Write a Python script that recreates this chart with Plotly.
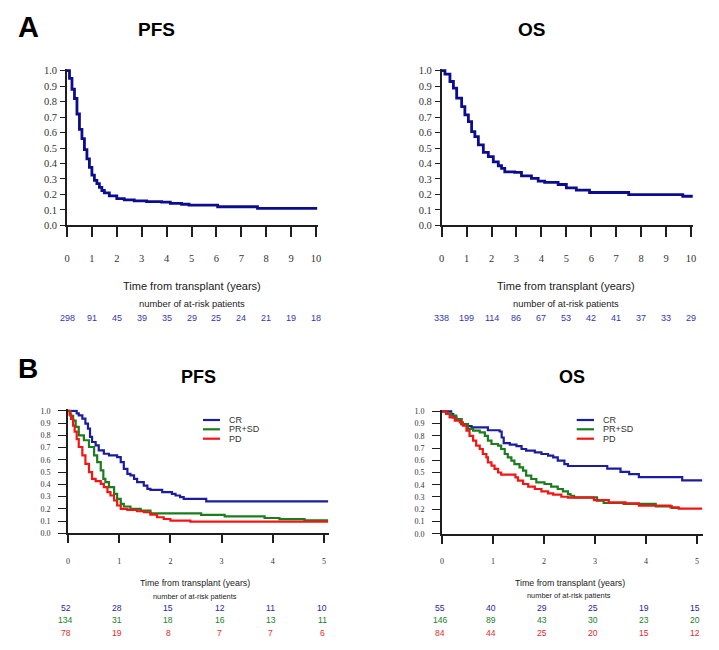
import plotly.graph_objects as go

# the page body adds an 8px margin; the figure is sized to fit inside the window
OFF = 8
W, H = 719 - 2 * OFF, 650 - 2 * OFF

# ---------------- data ----------------
years_a = [0, 1, 2, 3, 4, 5, 6, 7, 8, 9, 10]
years_b = [0, 1, 2, 3, 4, 5]
y_ticks = [0.0, 0.1, 0.2, 0.3, 0.4, 0.5, 0.6, 0.7, 0.8, 0.9, 1.0]

# Panel A - PFS (all patients)
a_pfs_t = [0, 0.1, 0.2, 0.3, 0.4, 0.5, 0.6, 0.7, 0.8, 0.9, 1.0, 1.1, 1.2, 1.3, 1.4, 1.5,
           1.7, 2.0, 2.3, 2.7, 3.2, 3.8, 4.15, 4.6, 4.9, 6.05, 7.65, 10.05]
a_pfs_s = [1.0, 0.95, 0.88, 0.82, 0.72, 0.62, 0.56, 0.49, 0.43, 0.375, 0.325, 0.29, 0.27,
           0.245, 0.225, 0.21, 0.19, 0.173, 0.165, 0.158, 0.153, 0.15, 0.142, 0.136, 0.13,
           0.12, 0.11, 0.11]

# Panel A - OS (all patients)
a_os_t = [0, 0.13, 0.33, 0.47, 0.6, 0.8, 0.93, 1.07, 1.2, 1.33, 1.47, 1.67, 1.87, 2.07,
          2.27, 2.4, 2.53, 2.93, 3.2, 3.6, 3.87, 4.13, 4.67, 5.0, 5.4, 5.93, 7.5, 9.67, 10.07]
a_os_s = [1.0, 0.978, 0.93, 0.887, 0.823, 0.768, 0.714, 0.67, 0.606, 0.574, 0.52, 0.472,
          0.444, 0.41, 0.385, 0.368, 0.346, 0.342, 0.32, 0.303, 0.286, 0.277, 0.264, 0.242,
          0.227, 0.212, 0.199, 0.188, 0.188]

# Panel B - PFS by disease status
b_pfs_cr_t = [0, 0.17, 0.21, 0.28, 0.34, 0.39, 0.43, 0.47, 0.54, 0.6, 0.7, 0.8, 0.96, 1.03,
              1.09, 1.16, 1.22, 1.29, 1.35, 1.48, 1.55, 1.61, 1.84, 2.03, 2.1, 2.19, 2.26,
              2.7, 5.08]
b_pfs_cr_s = [1.0, 0.98, 0.964, 0.937, 0.896, 0.855, 0.787, 0.746, 0.719, 0.678, 0.65,
              0.637, 0.623, 0.582, 0.527, 0.486, 0.473, 0.445, 0.418, 0.39, 0.363, 0.355,
              0.336, 0.322, 0.309, 0.295, 0.281, 0.26, 0.26]
b_pfs_prsd_t = [0, 0.05, 0.1, 0.15, 0.21, 0.31, 0.41, 0.51, 0.57, 0.64, 0.69, 0.73, 0.8,
                0.9, 0.96, 1.03, 1.09, 1.22, 1.42, 1.61, 2.6, 3.06, 3.84, 4.13, 4.62, 5.08]
b_pfs_prsd_s = [1.0, 0.96, 0.92, 0.87, 0.8, 0.76, 0.705, 0.637, 0.582, 0.514, 0.445, 0.418,
                0.377, 0.322, 0.281, 0.24, 0.219, 0.2, 0.186, 0.162, 0.15, 0.138, 0.125,
                0.115, 0.106, 0.106]
b_pfs_pd_t = [0, 0.03, 0.06, 0.1, 0.13, 0.17, 0.21, 0.28, 0.34, 0.41, 0.47, 0.54, 0.64, 0.7,
              0.77, 0.83, 0.9, 0.96, 1.03, 1.16, 1.35, 1.48, 1.61, 1.74, 1.87, 2.0, 2.39, 5.08]
b_pfs_pd_s = [1.0, 0.97, 0.935, 0.88, 0.83, 0.77, 0.705, 0.637, 0.568, 0.5, 0.445, 0.426,
              0.404, 0.377, 0.336, 0.309, 0.268, 0.227, 0.2, 0.191, 0.18, 0.172, 0.153,
              0.131, 0.117, 0.104, 0.095, 0.095]

# Panel B - OS by disease status
b_os_cr_t = [0, 0.18, 0.22, 0.28, 0.38, 0.5, 0.58, 0.9, 1.13, 1.17, 1.21, 1.33, 1.46, 1.56,
             1.65, 1.82, 1.95, 2.08, 2.18, 2.27, 2.4, 2.47, 3.24, 3.5, 3.67, 3.86, 4.71, 5.1]
b_os_cr_s = [1.0, 0.978, 0.95, 0.937, 0.896, 0.88, 0.869, 0.845, 0.835, 0.786, 0.74, 0.728,
             0.715, 0.692, 0.678, 0.665, 0.651, 0.638, 0.624, 0.597, 0.569, 0.553, 0.531,
             0.505, 0.486, 0.463, 0.436, 0.436]
b_os_prsd_t = [0, 0.08, 0.18, 0.28, 0.38, 0.51, 0.61, 0.74, 0.84, 0.9, 0.97, 1.1, 1.16, 1.23,
               1.29, 1.36, 1.42, 1.52, 1.59, 1.65, 1.75, 1.85, 2.01, 2.14, 2.27, 2.37, 2.47,
               2.52, 2.59, 3.04, 3.17, 3.56, 4.19, 4.51, 4.67]
b_os_prsd_s = [1.0, 0.984, 0.965, 0.937, 0.896, 0.856, 0.842, 0.828, 0.8, 0.76, 0.733, 0.72,
               0.692, 0.651, 0.624, 0.597, 0.569, 0.542, 0.515, 0.474, 0.447, 0.42, 0.406,
               0.384, 0.365, 0.346, 0.324, 0.31, 0.297, 0.27, 0.251, 0.243, 0.224, 0.21, 0.21]
b_os_pd_t = [0, 0.08, 0.15, 0.25, 0.35, 0.41, 0.48, 0.54, 0.61, 0.67, 0.74, 0.8, 0.87, 0.9,
             0.97, 1.03, 1.1, 1.16, 1.44, 1.49, 1.59, 1.69, 1.82, 1.95, 2.08, 2.18, 2.34,
             2.47, 2.98, 3.27, 3.6, 3.86, 4.48, 4.64, 5.1]
b_os_pd_s = [1.0, 0.978, 0.95, 0.924, 0.91, 0.883, 0.842, 0.8, 0.76, 0.72, 0.692, 0.651,
             0.624, 0.583, 0.556, 0.529, 0.5, 0.482, 0.46, 0.433, 0.406, 0.384, 0.365, 0.346,
             0.33, 0.319, 0.302, 0.295, 0.275, 0.256, 0.248, 0.229, 0.215, 0.205, 0.205]

groups = ["CR", "PR+SD", "PD"]

# at-risk tables
risk_a_pfs = [298, 91, 45, 39, 35, 29, 25, 24, 21, 19, 18]
risk_a_os = [338, 199, 114, 86, 67, 53, 42, 41, 37, 33, 29]
risk_b_pfs_cr = [52, 28, 15, 12, 11, 10]
risk_b_pfs_prsd = [134, 31, 18, 16, 13, 11]
risk_b_pfs_pd = [78, 19, 8, 7, 7, 6]
risk_b_os_cr = [55, 40, 29, 25, 19, 15]
risk_b_os_prsd = [146, 89, 43, 30, 23, 20]
risk_b_os_pd = [84, 44, 25, 20, 15, 12]

# ---------------- styling ----------------
NAVY = "#0c0c8e"
C_CR = "#1c1ca0"
C_PRSD = "#1b7d1b"
C_PD = "#f51414"
N_A = "#3535b0"
N_CR = "#27279a"
N_PRSD = "#22802a"
N_PD = "#e82a2a"
SANS = "Liberation Sans, Arial, sans-serif"
SERIF = "Liberation Serif, Times New Roman, serif"
AX = "#1e1e1e"


def px_x(p):
    return (p - OFF) / W


def px_y(p):
    return 1 - (p - OFF) / H


# panel geometry: page pixel of value 0 and pixels per unit
panels = [
    dict(x="x", y="y", xk="xaxis", yk="yaxis", x0=67, ppx=24.9, xr=[0, 10.07],
         y0=225.3, ppy=154.6, years=years_a, small=False),
    dict(x="x2", y="y2", xk="xaxis2", yk="yaxis2", x0=441.7, ppx=24.93, xr=[0, 10.08],
         y0=225.3, ppy=154.6, years=years_a, small=False),
    dict(x="x3", y="y3", xk="xaxis3", yk="yaxis3", x0=68, ppx=51.2, xr=[0, 5.1],
         y0=533.3, ppy=122.4, years=years_b, small=True),
    dict(x="x4", y="y4", xk="xaxis4", yk="yaxis4", x0=442, ppx=51.0, xr=[0, 5.12],
         y0=533.7, ppy=122.4, years=years_b, small=True),
]
YR = [0, 1.012]

fig = go.Figure()

curves = [
    (0, a_pfs_t, a_pfs_s, NAVY, "PFS", 2.8),
    (1, a_os_t, a_os_s, NAVY, "OS", 2.8),
    (2, b_pfs_cr_t, b_pfs_cr_s, C_CR, groups[0], 2.2),
    (2, b_pfs_prsd_t, b_pfs_prsd_s, C_PRSD, groups[1], 2.2),
    (2, b_pfs_pd_t, b_pfs_pd_s, C_PD, groups[2], 2.2),
    (3, b_os_cr_t, b_os_cr_s, C_CR, groups[0], 2.2),
    (3, b_os_prsd_t, b_os_prsd_s, C_PRSD, groups[1], 2.2),
    (3, b_os_pd_t, b_os_pd_s, C_PD, groups[2], 2.2),
]
for pi, t, s, col, name, lw in curves:
    p = panels[pi]
    fig.add_trace(go.Scatter(x=t, y=s, mode="lines", line=dict(color=col, width=lw, shape="hv"),
                             name=name, showlegend=False, xaxis=p["x"], yaxis=p["y"]))

layout = dict(width=W, height=H, margin=dict(l=0, r=0, t=0, b=0, autoexpand=False),
              paper_bgcolor="white", plot_bgcolor="white", showlegend=False)

for p in panels:
    xd = [px_x(p["x0"]), px_x(p["x0"] + (p["xr"][1] - p["xr"][0]) * p["ppx"])]
    yd = [px_y(p["y0"]), px_y(p["y0"] - (YR[1] - YR[0]) * p["ppy"])]
    small = p["small"]
    layout[p["xk"]] = dict(
        domain=xd, range=p["xr"], anchor=p["y"], showgrid=False, zeroline=False,
        showline=True, linecolor=AX, linewidth=1.6, automargin=False,
        tickmode="array", tickvals=p["years"], ticktext=[str(v) for v in p["years"]],
        ticks="outside", ticklen=8 if small else 10, tickwidth=1.8, tickcolor=AX,
        tickfont=dict(family=SERIF, size=8 if small else 10.5, color="#333"),
        ticklabelstandoff=11 if small else 12, fixedrange=True,
    )
    layout[p["yk"]] = dict(
        domain=yd, range=YR, anchor=p["x"], showgrid=False, zeroline=False,
        showline=True, linecolor=AX, linewidth=1.6, automargin=False,
        tickmode="array", tickvals=y_ticks, ticktext=[f"{v:.1f}" for v in y_ticks],
        ticks="outside", ticklen=8 if small else 5, tickwidth=1.2, tickcolor=AX,
        tickfont=dict(family=SERIF, size=8 if small else 10.5, color="#333"),
        ticklabelstandoff=6 if small else 1, fixedrange=True,
    )

fig.update_layout(**layout)

ann = []


def text(t, x, y, size, color="#1a1a1a", xanchor="center", bold=False, xref="paper", xshift=0):
    ann.append(dict(text=f"<b>{t}</b>" if bold else t,
                    x=x if xref != "paper" else px_x(x), xref=xref,
                    y=px_y(y), yref="paper", xanchor=xanchor, yanchor="middle",
                    xshift=xshift, showarrow=False,
                    font=dict(family=SANS, size=size, color=color)))


# panel letters and titles
text("A", 28, 27, 29, "#000", bold=True)
text("B", 27.5, 368, 28, "#000", bold=True)
text("PFS", 156, 29, 19, "#000", bold=True)
text("OS", 531, 29, 19, "#000", bold=True)
text("PFS", 198, 376.5, 18, "#000", bold=True)
text("OS", 571.5, 376.5, 18, "#000", bold=True)

# axis captions
text("Time from transplant (years)", 191.5, 286, 11)
text("number of at-risk patients", 191.5, 303, 9.4)
text("Time from transplant (years)", 566.3, 286, 11)
text("number of at-risk patients", 566.3, 303, 9.4)
text("Time from transplant (years)", 195.5, 582.5, 8.8)
text("number of at-risk patients", 195.5, 596, 7.4)
text("Time from transplant (years)", 569.5, 582.7, 8.8)
text("number of at-risk patients", 569, 595.7, 7.4)

# at-risk numbers, placed on the year axes
for yr, n in zip(years_a, risk_a_pfs):
    text(str(n), yr, 318.3, 9, N_A, xref="x")
for yr, n in zip(years_a, risk_a_os):
    text(str(n), yr, 318.3, 9, N_A, xref="x2")
for row_y, vals, col in [(607.7, risk_b_pfs_cr, N_CR), (620.3, risk_b_pfs_prsd, N_PRSD),
                         (633, risk_b_pfs_pd, N_PD)]:
    for yr, n in zip(years_b, vals):
        text(str(n), yr, row_y, 8.6, col, xref="x3", xshift=-2)
for row_y, vals, col in [(607.7, risk_b_os_cr, N_CR), (620.3, risk_b_os_prsd, N_PRSD),
                         (633, risk_b_os_pd, N_PD)]:
    for yr, n in zip(years_b, vals):
        text(str(n), yr, row_y, 8.6, col, xref="x4", xshift=-2)

# legends for panel B
shapes = []
for lx0, lx1, tx in [(203, 220, 226.5), (576.7, 594, 600.5)]:
    for gy, g, col in [(420, groups[0], C_CR), (429.3, groups[1], C_PRSD), (438.7, groups[2], C_PD)]:
        shapes.append(dict(type="line", xref="paper", yref="paper",
                           x0=px_x(lx0), x1=px_x(lx1), y0=px_y(gy), y1=px_y(gy),
                           line=dict(color=col, width=2.2)))
        text(g, tx, gy, 9, "#333", xanchor="left")

fig.update_layout(annotations=ann, shapes=shapes)
fig.write_html("out.html")
